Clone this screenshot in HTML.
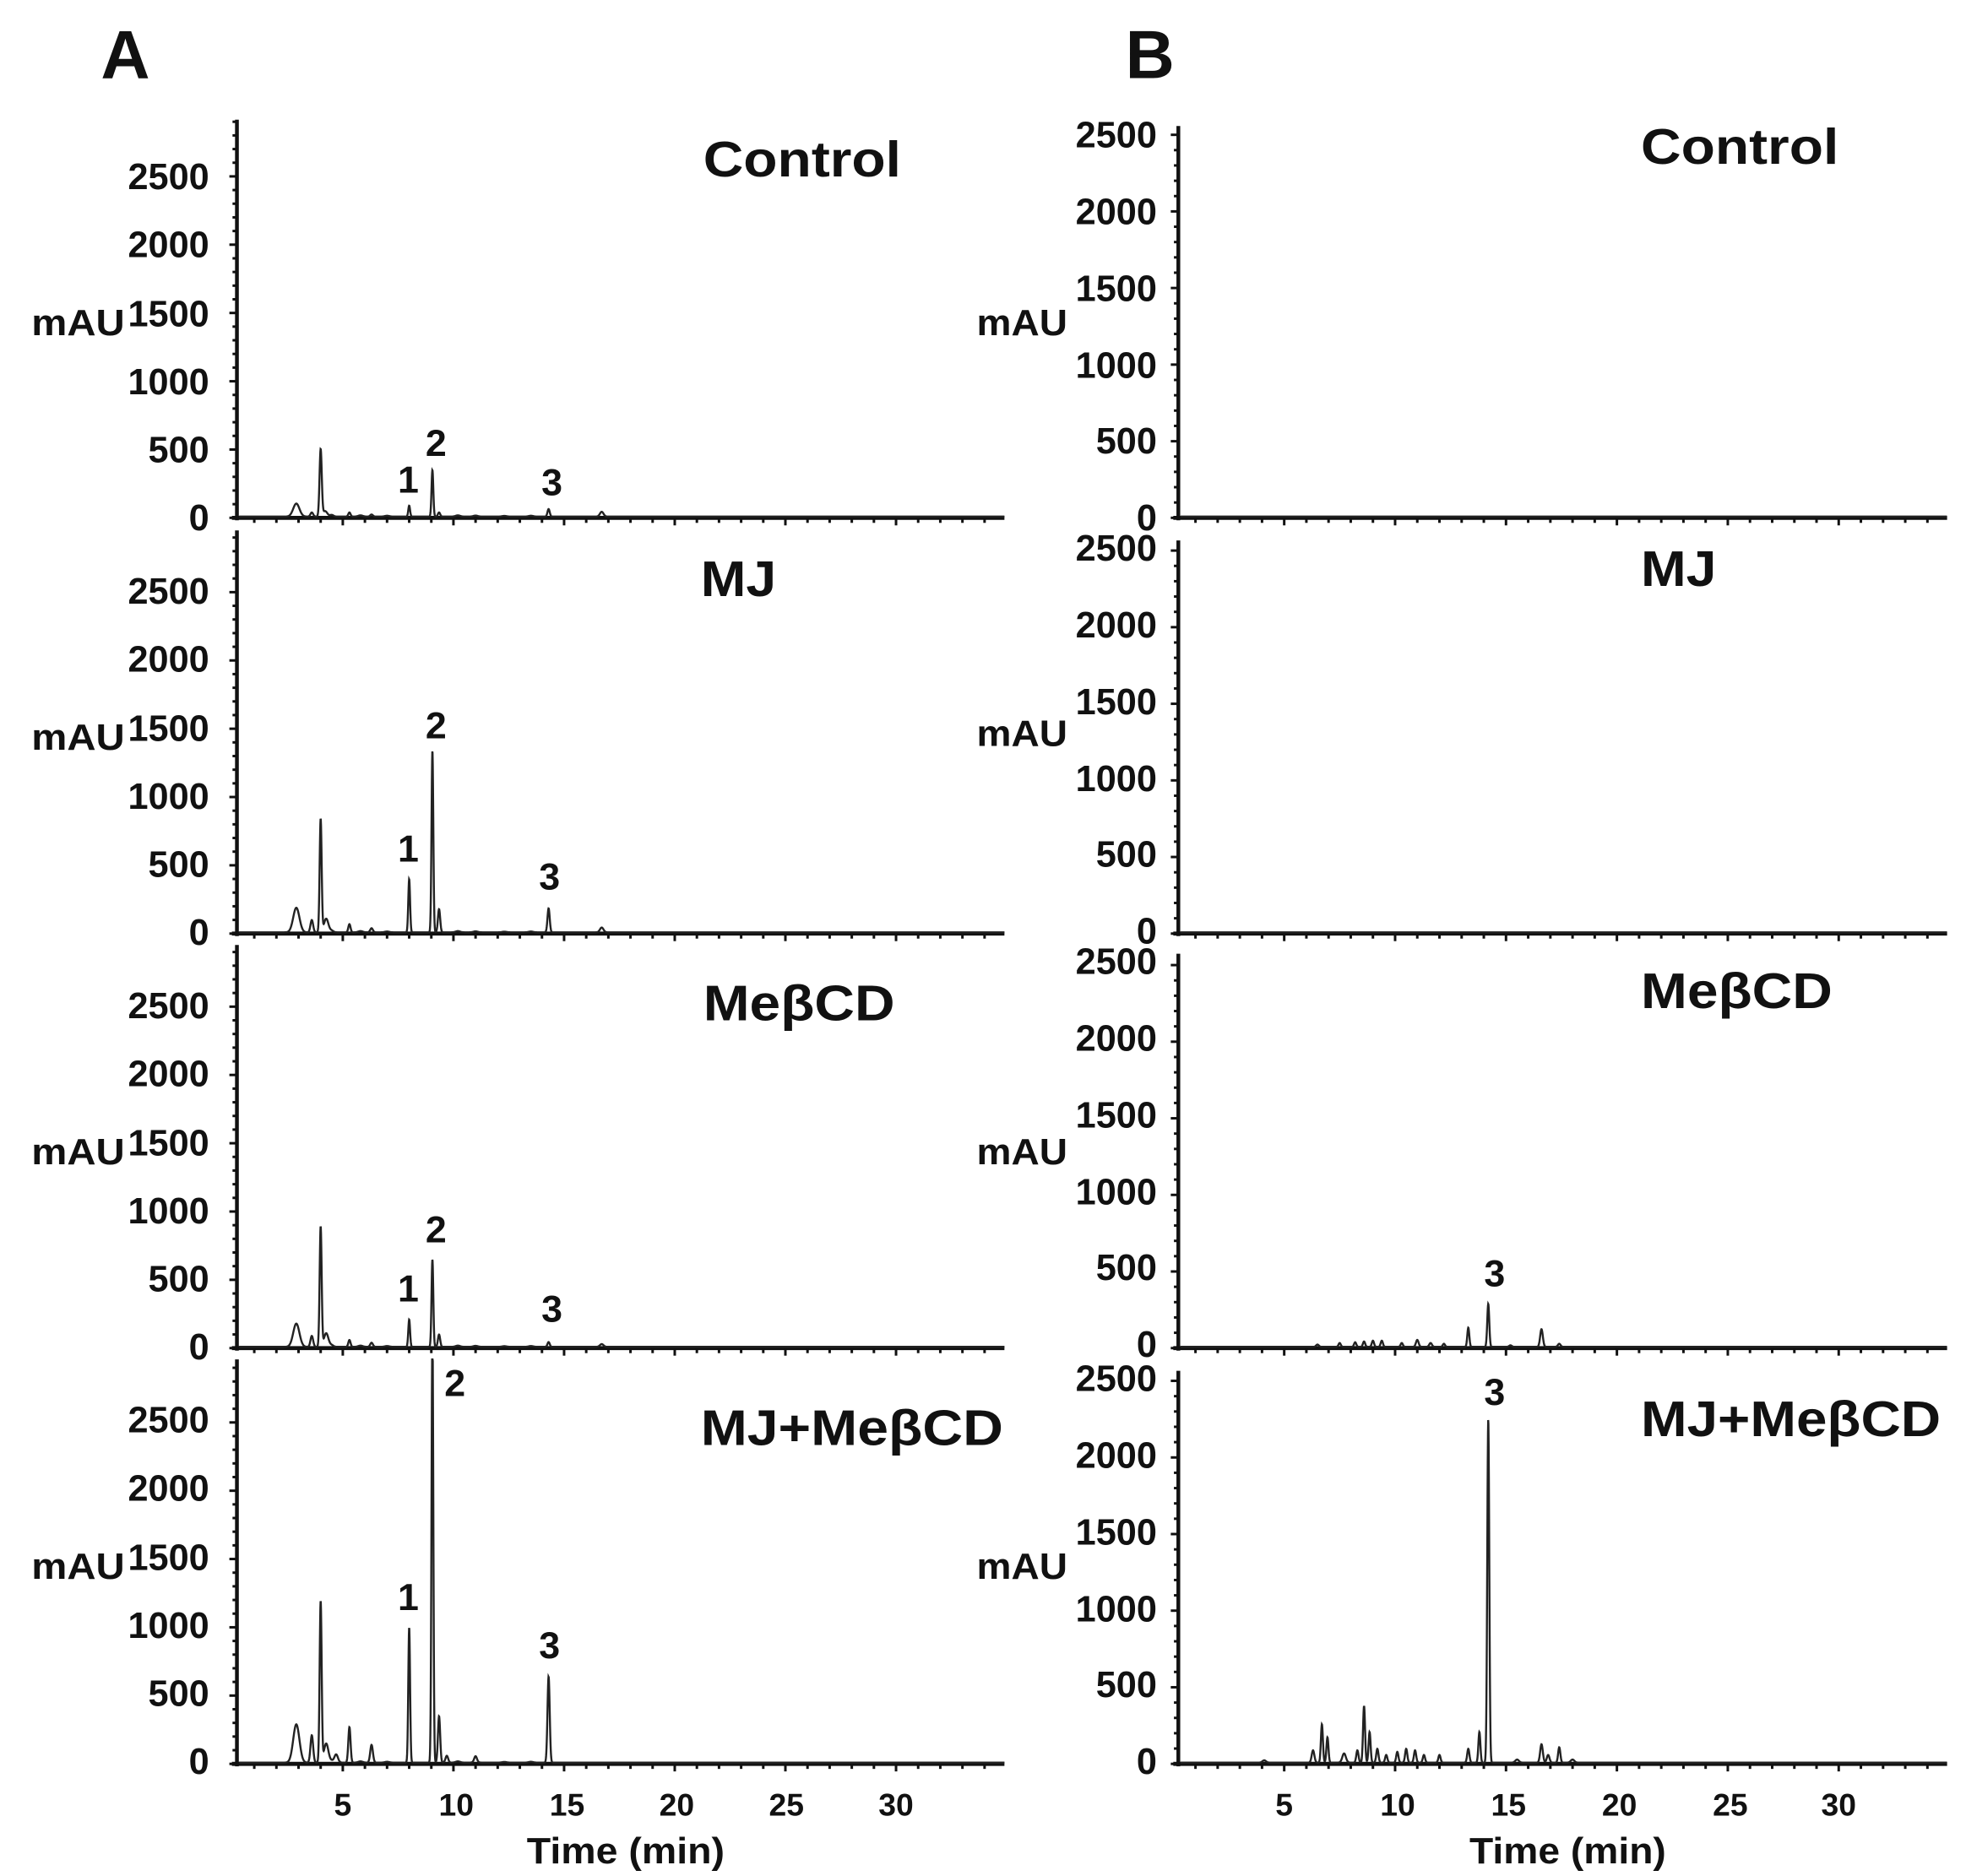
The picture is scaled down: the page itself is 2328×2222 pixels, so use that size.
<!DOCTYPE html>
<html><head><meta charset="utf-8"><style>
html,body{margin:0;padding:0;background:#fff;}
svg{display:block;}
text{font-family:"Liberation Sans",Arial,sans-serif;font-weight:bold;fill:#111;}
</style></head><body>
<svg id="s" width="2328" height="2222" viewBox="0 0 1560 1489" preserveAspectRatio="none" xmlns="http://www.w3.org/2000/svg">
<rect width="1560" height="1489" fill="#fff"/>
<text x="80" y="62" font-size="54">A</text>
<text x="893" y="62" font-size="54">B</text>
<g id="g"></g>
<g font-size="29" text-anchor="end">
<text x="166" y="150">2500</text><text x="166" y="204">2000</text><text x="166" y="259">1500</text><text x="166" y="313">1000</text><text x="166" y="367">500</text><text x="166" y="421">0</text>
<text x="166" y="479">2500</text><text x="166" y="533">2000</text><text x="166" y="588">1500</text><text x="166" y="642">1000</text><text x="166" y="696">500</text><text x="166" y="750">0</text>
<text x="166" y="808">2500</text><text x="166" y="862">2000</text><text x="166" y="917">1500</text><text x="166" y="971">1000</text><text x="166" y="1025">500</text><text x="166" y="1079">0</text>
<text x="166" y="1137">2500</text><text x="166" y="1191">2000</text><text x="166" y="1246">1500</text><text x="166" y="1300">1000</text><text x="166" y="1354">500</text><text x="166" y="1408">0</text>
<text x="918" y="117">2500</text><text x="918" y="178">2000</text><text x="918" y="239">1500</text><text x="918" y="300">1000</text><text x="918" y="360">500</text><text x="918" y="421">0</text>
<text x="918" y="445">2500</text><text x="918" y="506">2000</text><text x="918" y="567">1500</text><text x="918" y="628">1000</text><text x="918" y="688">500</text><text x="918" y="749">0</text>
<text x="918" y="773">2500</text><text x="918" y="834">2000</text><text x="918" y="895">1500</text><text x="918" y="956">1000</text><text x="918" y="1016">500</text><text x="918" y="1077">0</text>
<text x="918" y="1104">2500</text><text x="918" y="1165">2000</text><text x="918" y="1226">1500</text><text x="918" y="1287">1000</text><text x="918" y="1347">500</text><text x="918" y="1408">0</text>
</g>
<g font-size="29">
<text x="25" y="266" textLength="74" lengthAdjust="spacingAndGlyphs">mAU</text><text x="25" y="595" textLength="74" lengthAdjust="spacingAndGlyphs">mAU</text><text x="25" y="924" textLength="74" lengthAdjust="spacingAndGlyphs">mAU</text><text x="25" y="1253" textLength="74" lengthAdjust="spacingAndGlyphs">mAU</text>
<text x="775" y="266" textLength="72" lengthAdjust="spacingAndGlyphs">mAU</text><text x="775" y="592" textLength="72" lengthAdjust="spacingAndGlyphs">mAU</text><text x="775" y="924" textLength="72" lengthAdjust="spacingAndGlyphs">mAU</text><text x="775" y="1253" textLength="72" lengthAdjust="spacingAndGlyphs">mAU</text>
</g>
<g font-size="40">
<text x="558" y="140" textLength="157" lengthAdjust="spacingAndGlyphs">Control</text>
<text x="556" y="473" textLength="60" lengthAdjust="spacingAndGlyphs">MJ</text>
<text x="558" y="810" textLength="152" lengthAdjust="spacingAndGlyphs">MeβCD</text>
<text x="556" y="1147" textLength="240" lengthAdjust="spacingAndGlyphs">MJ+MeβCD</text>
<text x="1302" y="130" textLength="157" lengthAdjust="spacingAndGlyphs">Control</text>
<text x="1302" y="465" textLength="60" lengthAdjust="spacingAndGlyphs">MJ</text>
<text x="1302" y="800" textLength="152" lengthAdjust="spacingAndGlyphs">MeβCD</text>
<text x="1302" y="1140" textLength="238" lengthAdjust="spacingAndGlyphs">MJ+MeβCD</text>
</g>
<g font-size="30" text-anchor="middle">
<text x="324" y="391">1</text><text x="346" y="362">2</text><text x="438" y="393">3</text>
<text x="324" y="684">1</text><text x="346" y="586">2</text><text x="436" y="706">3</text>
<text x="324" y="1033">1</text><text x="346" y="986">2</text><text x="438" y="1049">3</text>
<text x="324" y="1278">1</text><text x="361" y="1108">2</text><text x="436" y="1316">3</text>
<text x="1186" y="1021">3</text><text x="1186" y="1115">3</text>
</g>
<g font-size="25" text-anchor="middle">
<text x="272" y="1441">5</text><text x="362" y="1441">10</text><text x="450" y="1441">15</text><text x="537" y="1441">20</text><text x="624" y="1441">25</text><text x="711" y="1441">30</text>
<text x="1019" y="1441">5</text><text x="1109" y="1441">10</text><text x="1197" y="1441">15</text><text x="1285" y="1441">20</text><text x="1373" y="1441">25</text><text x="1459" y="1441">30</text>
</g>
<g font-size="29">
<text x="418" y="1479" textLength="157" lengthAdjust="spacingAndGlyphs">Time (min)</text><text x="1166" y="1479" textLength="156" lengthAdjust="spacingAndGlyphs">Time (min)</text>
</g>
</svg>
<script>
var g=document.getElementById('g'),NS='http://www.w3.org/2000/svg';
function el(t,a){var e=document.createElementNS(NS,t);for(var k in a)e.setAttribute(k,a[k]);g.appendChild(e);return e;}
var A={ax:188,x0:184.2,pm:17.56,xe:797},B={ax:935,x0:931,pm:17.6,xe:1545};
var rowsA=[{b:411,top:95},{b:741,top:421},{b:1070,top:750},{b:1400,top:1079}];
var rowsB=[{b:411,top:100},{b:741,top:429},{b:1070,top:757},{b:1400,top:1088}];
var sA=54.2/500,sB=60.8/500;
function axes(P,r,s){
 el('line',{x1:P.ax,y1:r.top,x2:P.ax,y2:r.b+2,stroke:'#111','stroke-width':3});
 el('line',{x1:P.ax-4,y1:r.b,x2:P.xe,y2:r.b,stroke:'#111','stroke-width':3.2});
 for(var v=0;v<=2900;v+=100){var y=r.b-v*s;if(y<r.top)break;var L=(v%500==0)?6:3.5;
  el('line',{x1:P.ax-L,y1:y,x2:P.ax,y2:y,stroke:'#111','stroke-width':2});}
 for(var t=1;t<=34;t++){var x=P.x0+t*P.pm;var L=(t%5==0)?6:4;
  el('line',{x1:x,y1:r.b,x2:x,y2:r.b+L,stroke:'#111','stroke-width':2});}
}
function trace(P,r,s,pk){
 var d='',t0=(P.ax-P.x0)/P.pm+0.1,t1=(P.xe-P.x0)/P.pm;
 for(var t=t0;t<=t1;t+=0.01){var v=0;
  for(var i=0;i<pk.length;i++){var p=pk[i],z=(t-p[0])/p[2];if(Math.abs(z)<6)v+=p[1]*Math.exp(-0.5*z*z);}
  var y=r.b-1-v*s;if(y<r.top)y=r.top;
  d+=(d?'L':'M')+(P.x0+t*P.pm).toFixed(2)+' '+y.toFixed(2);}
 el('path',{d:d,fill:'none',stroke:'#222','stroke-width':1.6});
}
var common=[[4.5,20,0.08],[5.8,15,0.1],[7.0,10,0.1],[10.2,15,0.1],[11,12,0.1],[12.3,8,0.1],[13.5,10,0.1]];
var pA=[
 [[2.9,95,0.14],[3.6,30,0.06],[4.0,490,0.05],[4.2,40,0.1],[5.3,30,0.05],[6.3,15,0.06],[8.0,80,0.04],[9.05,340,0.04],[9.35,30,0.05],[14.3,55,0.05],[16.7,35,0.08]],
 [[2.9,180,0.14],[3.6,90,0.06],[4.0,830,0.045],[4.25,100,0.1],[5.3,60,0.05],[6.3,30,0.06],[8.0,390,0.04],[9.05,1330,0.04],[9.35,170,0.05],[14.3,175,0.05],[16.7,35,0.08]],
 [[2.9,170,0.14],[3.6,80,0.06],[4.0,880,0.045],[4.25,100,0.1],[5.3,50,0.05],[6.3,30,0.06],[8.0,200,0.04],[9.05,640,0.04],[9.35,90,0.05],[14.3,35,0.05],[16.7,20,0.08]],
 [[2.9,280,0.14],[3.6,200,0.06],[4.0,1180,0.045],[4.25,140,0.1],[4.7,60,0.08],[5.3,260,0.05],[6.3,130,0.06],[8.0,990,0.04],[9.05,3200,0.04],[9.35,340,0.05],[9.7,50,0.06],[11,40,0.06],[14.3,630,0.05]]
];
var pB=[[],[],
 [[6.5,15,0.06],[7.5,25,0.05],[8.2,30,0.05],[8.6,35,0.05],[9.0,40,0.05],[9.4,40,0.05],[10.3,25,0.05],[11,45,0.06],[11.6,25,0.06],[12.2,20,0.05],[13.3,125,0.045],[14.2,280,0.045],[15.2,10,0.06],[16.6,115,0.06],[17.4,20,0.06]],
 [[4.1,15,0.08],[6.3,80,0.06],[6.7,250,0.045],[6.95,165,0.045],[7.7,60,0.08],[8.3,80,0.05],[8.6,370,0.045],[8.85,200,0.045],[9.2,90,0.05],[9.6,50,0.05],[10.1,70,0.05],[10.5,90,0.05],[10.9,80,0.05],[11.3,50,0.05],[12,50,0.05],[13.3,90,0.05],[13.8,200,0.045],[14.2,2240,0.045],[15.5,20,0.08],[16.6,120,0.06],[16.9,50,0.06],[17.4,100,0.05],[18,20,0.08]]
];
for(var i=0;i<4;i++){axes(A,rowsA[i],sA);trace(A,rowsA[i],sA,pA[i].concat(common.map(function(p){return [p[0],p[1]*0.6,p[2]]})));}
for(var i=0;i<4;i++){axes(B,rowsB[i],sB);trace(B,rowsB[i],sB,pB[i]);}
</script>
</body></html>
